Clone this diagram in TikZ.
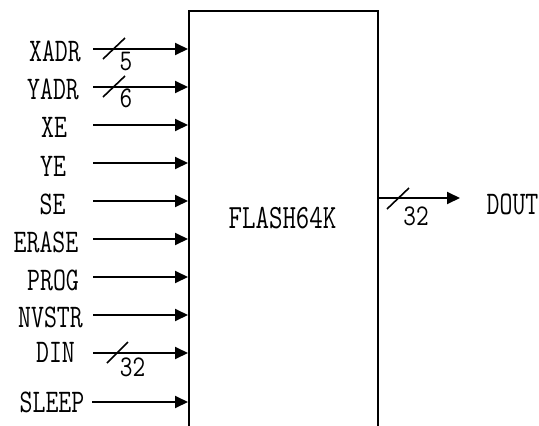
\documentclass[tikz,border=0pt]{standalone}
\usepackage{graphicx}
\usetikzlibrary{arrows.meta}
\newcommand{\lbl}[1]{\scalebox{0.76}[1]{\fontsize{33}{33}\selectfont\ttfamily #1}}
\newcommand{\numl}[1]{\scalebox{0.82}[1]{\fontsize{30}{30}\selectfont\ttfamily #1}}
\newcommand{\ttl}[1]{\scalebox{0.77}[1]{\fontsize{34}{34}\selectfont\ttfamily #1}}
\begin{document}
\begin{tikzpicture}[x=1pt,y=-1pt,
  sig/.style={line width=2pt,-{Triangle[length=13pt,width=12pt]}},
  slash/.style={line width=1.6pt},
  lab/.style={inner sep=0pt},
  chipbox/.style={draw,line width=2pt,rectangle,minimum width=189pt,minimum height=440pt,anchor=north}]
\useasboundingbox (0,0) rectangle (539,426);
\node[chipbox] (chip) at (283.5,10) {};
\node[lab] (title) at (282.5,218.5) {\ttl{FLASH64K}};
% input start points
\coordinate (s1) at (93,49);
\coordinate (s2) at (93,87);
\coordinate (s3) at (93,125);
\coordinate (s4) at (93,163);
\coordinate (s5) at (93,201);
\coordinate (s6) at (93,239);
\coordinate (s7) at (93,277);
\coordinate (s8) at (93,315);
\coordinate (s9) at (93,353);
\coordinate (s10) at (92,402);
\foreach \i in {1,...,10}{\draw[sig] (s\i) -- (s\i -| chip.west);}
% labels
\node[lab] (l1) at (55,51.5) {\lbl{XADR}};
\node[lab] (l2) at (53,89.5) {\lbl{YADR}};
\node[lab] (l3) at (54,127.5) {\lbl{XE}};
\node[lab] (l4) at (53,166) {\lbl{YE}};
\node[lab] (l5) at (52.5,204) {\lbl{SE}};
\node[lab] (l6) at (46,242) {\lbl{ERASE}};
\node[lab] (l7) at (53,280) {\lbl{PROG}};
\node[lab] (l8) at (50.5,317.5) {\lbl{NVSTR}};
\node[lab] (l9) at (55.5,352.5) {\lbl{DIN}};
\node[lab] (l10) at (52,402.5) {\lbl{SLEEP}};
% bus slashes and widths
\draw[slash] (103,59) -- (125,38);
\node[lab] (n1) at (126,61.5) {\numl{5}};
\draw[slash] (103,97) -- (125,76);
\node[lab] (n2) at (126,98) {\numl{6}};
\draw[slash] (107,363) -- (128,342);
\node[lab] (n3) at (132.5,367.5) {\numl{32}};
% output
\coordinate (dtip) at (460,198);
\draw[sig] (dtip -| chip.east) -- (dtip);
\draw[slash] (387,209) -- (409,188);
\node[lab] (n4) at (416,216.5) {\numl{32}};
\node[lab] (dout) at (512.5,204) {\lbl{DOUT}};
\end{tikzpicture}
\end{document}
